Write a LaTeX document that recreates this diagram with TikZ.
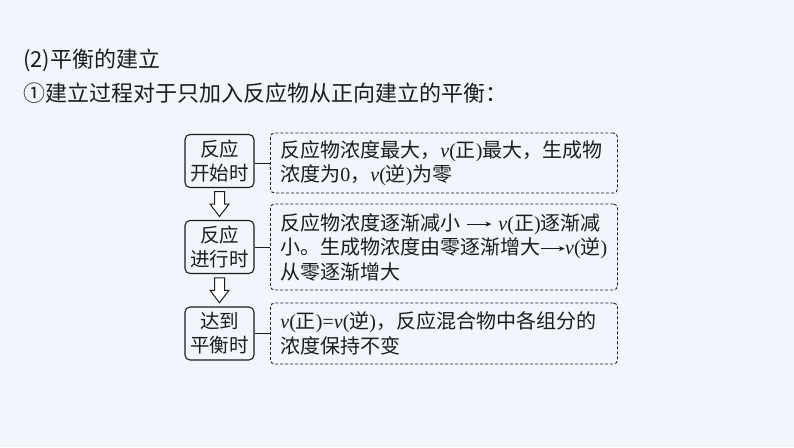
\documentclass[tikz,border=0pt]{standalone}
\usepackage{fontspec}
\setmainfont{Noto Sans CJK SC}
\newfontfamily\lserif{Liberation Serif}
\usetikzlibrary{calc,arrows.meta}
\definecolor{bg}{RGB}{240,246,252}
\definecolor{ink}{RGB}{28,28,28}
\newcommand\lsv{{\lserif\itshape v}}
\newcommand\lsp[1]{{\lserif(}#1{\lserif)}}
\newcommand\lseq{{\lserif=}}
\newcommand\tarrow{\tikz[baseline=-0.55ex]\draw[ink,line width=0.7pt,-{Stealth[length=6pt,width=5pt]}] (0pt,0pt) -- (24pt,0pt);}
\tikzset{
  lbox/.style={draw=ink, line width=1.1pt, rounded corners=5pt, minimum width=69pt, minimum height=53pt,
    inner sep=0pt, align=center, text=ink, font=\fontsize{19.5}{24}\selectfont},
  rbox/.style={draw=ink, line width=0.9pt, dash pattern=on 3pt off 2pt, rounded corners=4pt,
    minimum width=347pt, text width=327pt, inner xsep=10pt, inner ysep=0pt, align=left, anchor=west,
    text=ink, font=\fontsize{20}{24.5}\selectfont},
  link/.style={draw=ink, line width=1pt},
  hollow/.style={draw=ink, line width=1pt, fill=white, line join=miter},
  title/.style={anchor=west, inner sep=0pt, text=ink, font=\fontsize{22}{26}\selectfont}
}
\begin{document}
\begin{tikzpicture}[x=1pt,y=1pt]
\fill[bg] (0,0) rectangle (794,-447);
\useasboundingbox (0,0) rectangle (794,-447);

\node[title] (t1) at (23,-60) {(2)平衡的建立};
\node[title] (t2) at (23,-93) {①建立过程对于只加入反应物从正向建立的平衡：};

\node[lbox] (a1) at (219.5,-161) {反应\\开始时};
\node[lbox] (a2) at (219.5,-247) {反应\\进行时};
\node[lbox] (a3) at (219.5,-333.5) {达到\\平衡时};

\node[rbox, minimum height=60pt] (b1) at (270,-163) {反应物浓度最大，\lsv\lsp{正}最大，生成物\\浓度为{\lserif 0}，\lsv\lsp{逆}为零};
\node[rbox, minimum height=86pt] (b2) at (270,-247) {反应物浓度逐渐减小 \tarrow\ \lsv\lsp{正}逐渐减\\小。生成物浓度由零逐渐增大\tarrow\lsv\lsp{逆}\\从零逐渐增大};
\node[rbox, minimum height=61pt] (b3) at (270,-333.5) {\lsv\lsp{正}\lseq\lsv\lsp{逆}，反应混合物中各组分的\\浓度保持不变};

\draw[link] (b1.west) -- (b1.west -| a1.east);
\draw[link] (b2.west) -- (b2.west -| a2.east);
\draw[link] (b3.west) -- (b3.west -| a3.east);

\coordinate (m1) at ($(a1.south)!0.5!(a2.north)$);
\coordinate (m2) at ($(a2.south)!0.5!(a3.north)$);
\foreach \m in {m1,m2}{
  \draw[hollow] ([shift={(-5,12.5)}]\m) -- ([shift={(-5,0)}]\m) -- ([shift={(-9.5,0)}]\m)
    -- ([shift={(0,-12.5)}]\m) -- ([shift={(9.5,0)}]\m) -- ([shift={(5,0)}]\m)
    -- ([shift={(5,12.5)}]\m) -- cycle;
}
\end{tikzpicture}
\end{document}
